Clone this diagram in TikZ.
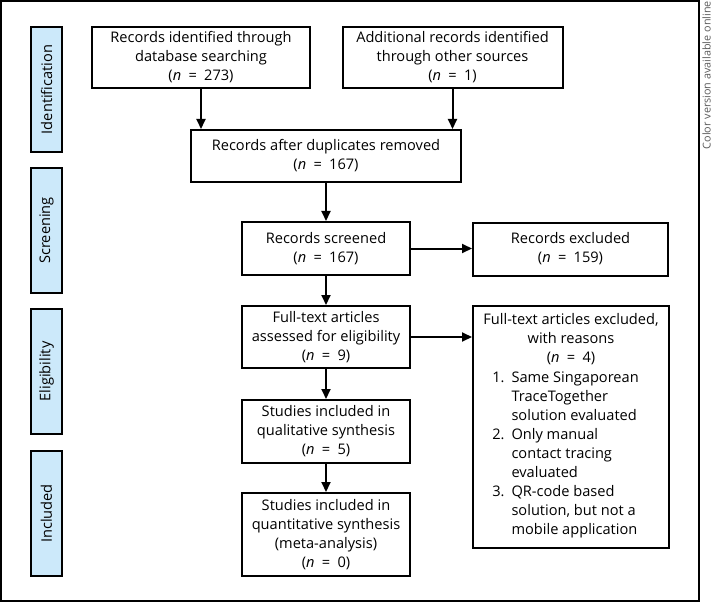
\documentclass[tikz,border=0pt]{standalone}
\usepackage{fontspec}
\setmainfont{Open Sans}
\usetikzlibrary{arrows.meta}
\definecolor{labelblue}{RGB}{204,233,250}
\definecolor{notegray}{RGB}{90,90,90}
\newcommand{\nval}[1]{(\textit{n}\hspace{0.5em}=\hspace{0.5em}#1)}
\begin{document}
\begin{tikzpicture}[x=1bp,y=-1bp,
  every node/.style={font=\fontsize{14.6bp}{19bp}\selectfont, inner sep=0pt},
  flowbox/.style={draw, line width=2bp, align=center},
  sidelabel/.style={draw, line width=2bp, fill=labelblue, minimum width=31bp, minimum height=125bp},
  flowarrow/.style={line width=2bp, -{Triangle[length=10bp,width=9bp]}}]
\useasboundingbox (0,0) rectangle (714,603);
\draw[line width=1.5bp] (1,1) rectangle (699,601);
\node[font=\fontsize{10.8bp}{12bp}\selectfont, text=notegray, rotate=90, anchor=east] (note) at (706.5,1) {Color version available online};

\node[sidelabel] (sid) at (46.5,89.5) {};
\node[rotate=90] (tid) at (sid.center) {Identification};
\node[sidelabel] (ssc) at (46.5,230.5) {};
\node[rotate=90] (tsc) at (ssc.center) {Screening};
\node[sidelabel] (sel) at (46.5,371.5) {};
\node[rotate=90] (tel) at (sel.center) {Eligibility};
\node[sidelabel] (sin) at (46.5,513.5) {};
\node[rotate=90] (tin) at (sin.center) {Included};

\node[flowbox, minimum width=218bp, minimum height=61bp] (b1) at (201,57.5) {Records identified through\\database searching\\\nval{273}};
\node[flowbox, minimum width=220bp, minimum height=61bp] (b2) at (452.5,57.5) {Additional records identified\\through other sources\\\nval{1}};
\node[flowbox, minimum width=270bp, minimum height=52bp] (b3) at (326,156) {Records after duplicates removed\\\nval{167}};
\node[flowbox, minimum width=168bp, minimum height=53bp] (b4) at (326,248.5) {Records screened\\\nval{167}};
\node[flowbox, minimum width=195bp, minimum height=53bp] (b5) at (570.5,249) {Records excluded\\\nval{159}};
\node[flowbox, minimum width=168bp, minimum height=62bp] (b6) at (326,337) {Full-text articles\\assessed for eligibility\\\nval{9}};
\node[flowbox, minimum width=196bp, minimum height=242bp] (b7) at (571,427) {Full-text articles excluded,\\with reasons\\\nval{4}\\[3bp]
  \hbox{\begin{tabular}{@{}r@{\hspace{7bp}}l@{}}
  1.&Same Singaporean\\
    &TraceTogether\\
    &solution evaluated\\
  2.&Only manual\\
    &contact tracing\\
    &evaluated\\
  3.&QR-code based\\
    &solution, but not a\\
    &mobile application
  \end{tabular}\kern11bp}};
\node[flowbox, minimum width=168bp, minimum height=63bp] (b8) at (326,431.5) {Studies included in\\qualitative synthesis\\\nval{5}};
\node[flowbox, minimum width=168bp, minimum height=83bp] (b9) at (326,534.5) {Studies included in\\quantitative synthesis\\(meta-analysis)\\\nval{0}};

\draw[flowarrow] (b1.south) -- (b1.south |- b3.north);
\draw[flowarrow] (b2.south) -- (b2.south |- b3.north);
\draw[flowarrow] (b3) -- (b4);
\draw[flowarrow] (b4) -- (b6);
\draw[flowarrow] (b6) -- (b8);
\draw[flowarrow] (b8) -- (b9);
\draw[flowarrow] (b4.east) -- (b4.east -| b5.west);
\draw[flowarrow] (b6.east) -- (b6.east -| b7.west);
\end{tikzpicture}
\end{document}
